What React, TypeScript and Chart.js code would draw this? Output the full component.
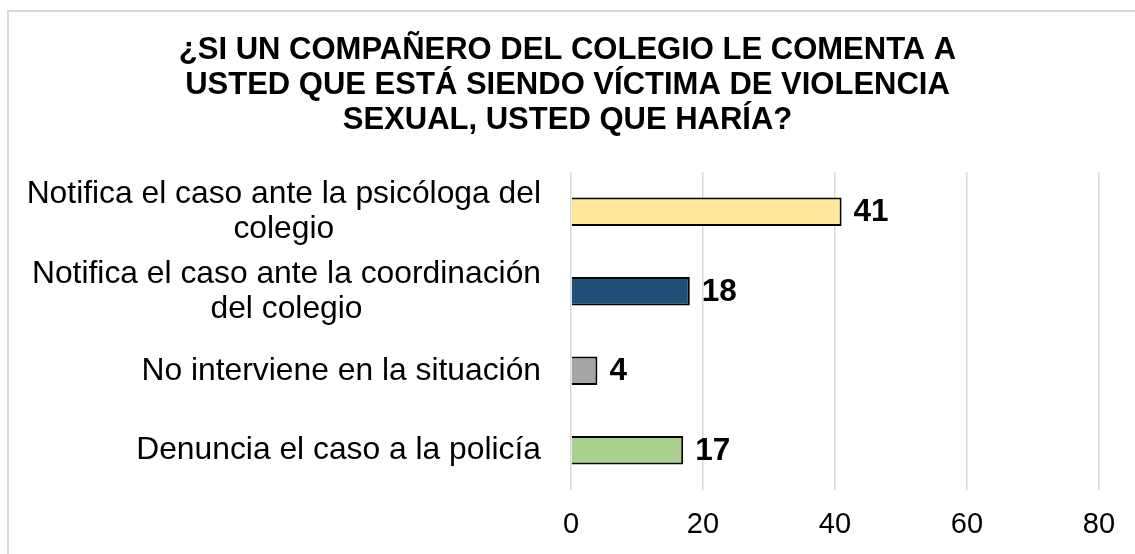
import React, { useEffect, useRef } from "react";
import { Chart, registerables } from "chart.js";

Chart.register(...registerables);

const categories: string[][] = [
  ["Notifica el caso ante la psicóloga del", "colegio"],
  ["Notifica el caso ante la coordinación", "del colegio"],
  ["No interviene en la situación"],
  ["Denuncia el caso a la policía"],
];
const values: number[] = [41, 18, 4, 17];
const barColors: string[] = ["#FFE699", "#1F4E79", "#A5A5A5", "#A9D18E"];
const xTicks: number[] = [0, 20, 40, 60, 80];
const titleLines: string[] = [
  "¿SI UN COMPAÑERO DEL COLEGIO LE COMENTA A",
  "USTED QUE ESTÁ SIENDO VÍCTIMA DE VIOLENCIA",
  "SEXUAL, USTED QUE HARÍA?",
];

const FONT = "'Liberation Sans', Arial, sans-serif";

const valueLabels = {
  id: "valueLabels",
  afterDatasetsDraw(chart: any) {
    const ctx = chart.ctx;
    const meta = chart.getDatasetMeta(0);
    ctx.save();
    ctx.font = `bold 31.5px ${FONT}`;
    ctx.fillStyle = "#000";
    ctx.textAlign = "left";
    ctx.textBaseline = "middle";
    meta.data.forEach((bar: any, i: number) => {
      ctx.fillText(String(values[i]), bar.x + 12, bar.y + 1);
    });
    ctx.restore();
  },
};

const catLabels = {
  id: "catLabels",
  afterDraw(chart: any) {
    const ctx = chart.ctx;
    const y = chart.scales.y;
    const right = chart.chartArea.left - 30;
    const lh = 35;
    ctx.save();
    ctx.font = `31.8px ${FONT}`;
    ctx.fillStyle = "#000";
    ctx.textAlign = "center";
    ctx.textBaseline = "middle";
    categories.forEach((lines, i) => {
      const cy = y.getPixelForValue(i);
      const maxW = Math.max(...lines.map((l) => ctx.measureText(l).width));
      const cx = right - maxW / 2;
      lines.forEach((l, j) => {
        ctx.fillText(l, cx, cy + (j - (lines.length - 1) / 2) * lh);
      });
    });
    ctx.restore();
  },
};

export default function App() {
  const ref = useRef<HTMLCanvasElement | null>(null);
  useEffect(() => {
    if (!ref.current) return;
    const chart = new Chart(ref.current, {
      type: "bar",
      data: {
        labels: categories.map((c) => c.join(" ")),
        datasets: [
          {
            data: values,
            backgroundColor: barColors,
            borderColor: "#000",
            borderWidth: 2,
            barPercentage: 0.36,
            categoryPercentage: 1,
          },
        ],
      },
      options: {
        indexAxis: "y",
        animation: false,
        responsive: false,
        maintainAspectRatio: false,
        layout: { padding: { left: 36, right: 36, top: 0, bottom: 11.6 } },
        plugins: {
          legend: { display: false },
          tooltip: { enabled: false },
          title: {
            display: true,
            text: titleLines,
            color: "#000",
            font: { family: FONT, size: 31, weight: "bold", lineHeight: 35 / 31 },
            padding: { top: 33, bottom: 34 },
          },
        },
        scales: {
          x: {
            min: 0,
            max: 80,
            afterBuildTicks(scale: any) {
              scale.ticks = xTicks.map((v) => ({ value: v }));
            },
            grid: { color: "#D9D9D9", lineWidth: 1.5, drawTicks: false },
            border: { display: false },
            ticks: {
              color: "#000",
              padding: 17.6,
              font: { family: FONT, size: 29, lineHeight: 1.2 },
            },
            afterFit(scale: any) {
              scale.height = 52.4;
            },
          },
          y: {
            grid: { display: false },
            border: { display: false },
            ticks: { display: false },
            afterFit(scale: any) {
              scale.width = 535;
            },
          },
        },
      },
      plugins: [valueLabels, catLabels],
    });
    return () => chart.destroy();
  }, []);
  return (
    <div
      style={{
        position: "fixed",
        left: 0,
        top: 0,
        width: 1135,
        height: 554,
        overflow: "hidden",
        background: "#fff",
      }}
    >
      <div
        style={{
          position: "absolute",
          left: 7,
          top: 10,
          width: 1200,
          height: 600,
          border: "2px solid #D9D9D9",
          boxSizing: "border-box",
        }}
      />
      <canvas
        ref={ref}
        width={1135}
        height={554}
        style={{ position: "absolute", left: 0, top: 0, width: 1135, height: 554 }}
      />
    </div>
  );
}
